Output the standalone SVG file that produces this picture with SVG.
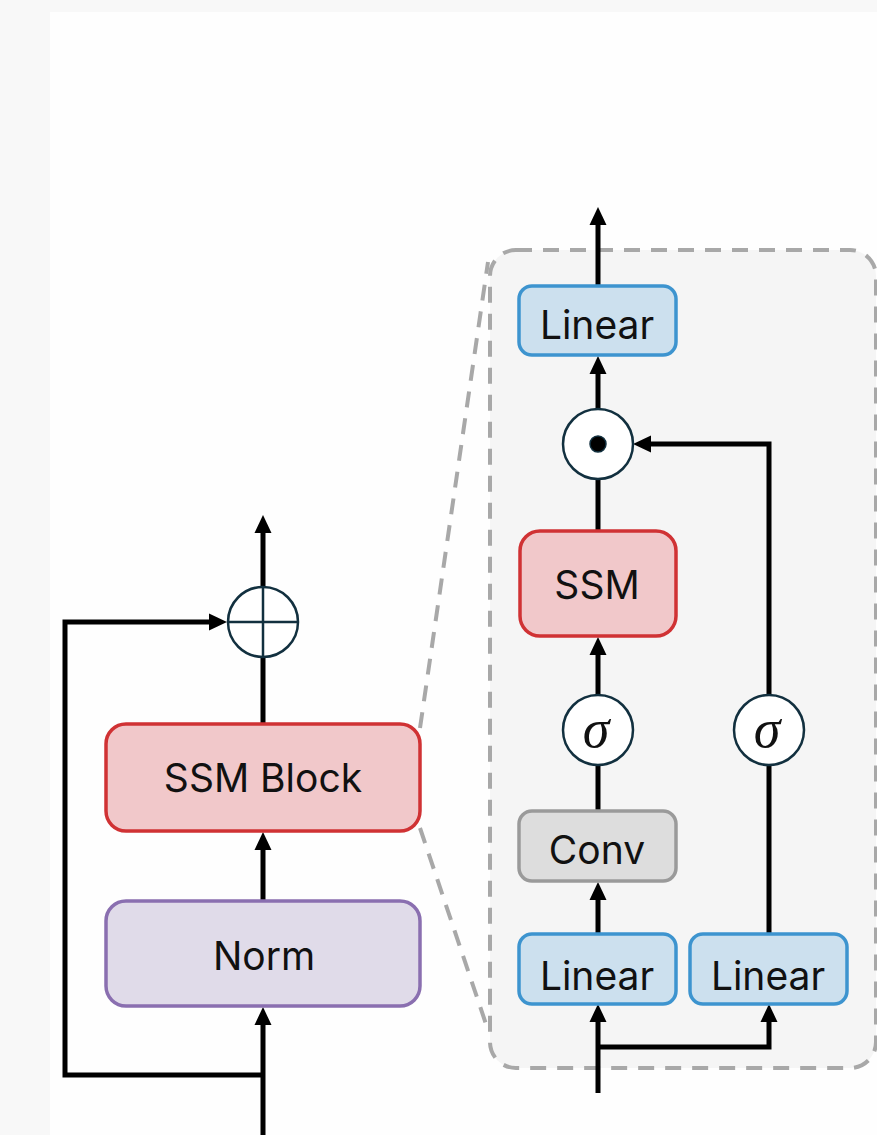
<svg xmlns="http://www.w3.org/2000/svg" width="877" height="1135" viewBox="0 0 877 1135">
  <defs>
    <!-- arrowhead: the wire ends 14px short of the tip -->
    <marker id="arrow" markerUnits="userSpaceOnUse" markerWidth="18" markerHeight="18" viewBox="0 0 18 18" refX="4" refY="9" orient="auto">
      <path d="M0,0.5 L18,9 L0,17.5 Z" fill="#000"/>
    </marker>
    <style>
      .wire { fill: none; stroke: #000; stroke-width: 5; }
      .zoom { fill: none; stroke: #a8a8a8; stroke-width: 4; stroke-dasharray: 16 11; }
      .op { fill: #fff; stroke: #12303f; stroke-width: 2.5; }
      .lbl { font-family: Inter, "Liberation Sans", sans-serif; font-size: 39px; fill: #111; text-anchor: middle; dominant-baseline: central; }
      .sig { font-family: "Liberation Serif", serif; font-style: italic; font-size: 54px; fill: #111; text-anchor: middle; }
      .lin { fill: #cce0ee; stroke: #3d94cf; stroke-width: 3.5; }
      .ssm { fill: #f1c8ca; stroke: #d03234; stroke-width: 3.5; }
      .norm { fill: #e0dbe9; stroke: #8a6fb0; stroke-width: 3.5; }
      .conv { fill: #dddddd; stroke: #9a9a9a; stroke-width: 3.5; }
    </style>
  </defs>

  <!-- canvas -->
  <rect width="877" height="1135" fill="#f8f8f8"/>
  <rect x="50" y="12" width="827" height="1123" fill="#fefefe"/>

  <!-- expanded block panel -->
  <rect id="panel" x="490" y="250" width="386" height="818" rx="26" fill="#f5f5f5" stroke="#a8a8a8" stroke-width="4" stroke-dasharray="16 11"/>

  <!-- zoom guides from the SSM Block to the panel -->
  <g id="zoom-guides">
    <line class="zoom" x1="420" y1="728" x2="488" y2="262"/>
    <line class="zoom" x1="420" y1="828" x2="488" y2="1030"/>
  </g>

  <!-- connectors -->
  <g id="connectors">
    <!-- residual block -->
    <line class="wire" x1="263" y1="1135" x2="263" y2="1021" marker-end="url(#arrow)"/>
    <line class="wire" x1="263" y1="900" x2="263" y2="846" marker-end="url(#arrow)"/>
    <line class="wire" x1="263" y1="723" x2="263" y2="657"/>
    <line class="wire" x1="263" y1="587" x2="263" y2="529" marker-end="url(#arrow)"/>
    <polyline class="wire" points="263,1075 65,1075 65,622 213,622" marker-end="url(#arrow)"/>

    <!-- expanded block -->
    <line class="wire" x1="598" y1="1093" x2="598" y2="1018" marker-end="url(#arrow)"/>
    <polyline class="wire" points="598,1047 769,1047 769,1018" marker-end="url(#arrow)"/>
    <line class="wire" x1="598" y1="933" x2="598" y2="896" marker-end="url(#arrow)"/>
    <line class="wire" x1="598" y1="810" x2="598" y2="765"/>
    <line class="wire" x1="598" y1="695" x2="598" y2="651" marker-end="url(#arrow)"/>
    <line class="wire" x1="598" y1="530" x2="598" y2="479"/>
    <line class="wire" x1="598" y1="409" x2="598" y2="370" marker-end="url(#arrow)"/>
    <line class="wire" x1="598" y1="285" x2="598" y2="221" marker-end="url(#arrow)"/>
    <line class="wire" x1="769" y1="933" x2="769" y2="765"/>
    <polyline class="wire" points="769,695 769,444 647,444" marker-end="url(#arrow)"/>
  </g>

  <!-- residual block nodes -->
  <g id="norm">
    <rect class="norm" x="106" y="901" width="314" height="105" rx="20"/>
    <text class="lbl" x="264" y="955">Norm</text>
  </g>
  <g id="ssm-block">
    <rect class="ssm" x="106" y="724" width="314" height="107" rx="20"/>
    <text class="lbl" x="263" y="777">SSM Block</text>
  </g>
  <g id="add">
    <circle class="op" cx="263" cy="622" r="35"/>
    <line class="op" x1="228" y1="622" x2="298" y2="622"/>
    <line class="op" x1="263" y1="587" x2="263" y2="657"/>
  </g>

  <!-- expanded block nodes -->
  <g id="linear-in-left">
    <rect class="lin" x="519" y="934" width="157" height="70" rx="13"/>
    <text class="lbl" x="597" y="975">Linear</text>
  </g>
  <g id="linear-in-right">
    <rect class="lin" x="690" y="934" width="157" height="70" rx="13"/>
    <text class="lbl" x="768" y="975">Linear</text>
  </g>
  <g id="conv">
    <rect class="conv" x="519" y="811" width="157" height="70" rx="13"/>
    <text class="lbl" x="597" y="849">Conv</text>
  </g>
  <g id="sigma-left">
    <circle class="op" cx="598" cy="730" r="35"/>
    <text class="sig" x="596" y="747">σ</text>
  </g>
  <g id="sigma-right">
    <circle class="op" cx="769" cy="730" r="35"/>
    <text class="sig" x="767" y="747">σ</text>
  </g>
  <g id="ssm">
    <rect class="ssm" x="520" y="531" width="156" height="105" rx="20"/>
    <text class="lbl" x="597" y="584">SSM</text>
  </g>
  <g id="gate">
    <circle class="op" cx="598" cy="444" r="35"/>
    <circle cx="598" cy="444" r="8" fill="#000" stroke="#12303f" stroke-width="1.5"/>
  </g>
  <g id="linear-out">
    <rect class="lin" x="519" y="286" width="157" height="69" rx="13"/>
    <text class="lbl" x="597" y="324">Linear</text>
  </g>
</svg>
